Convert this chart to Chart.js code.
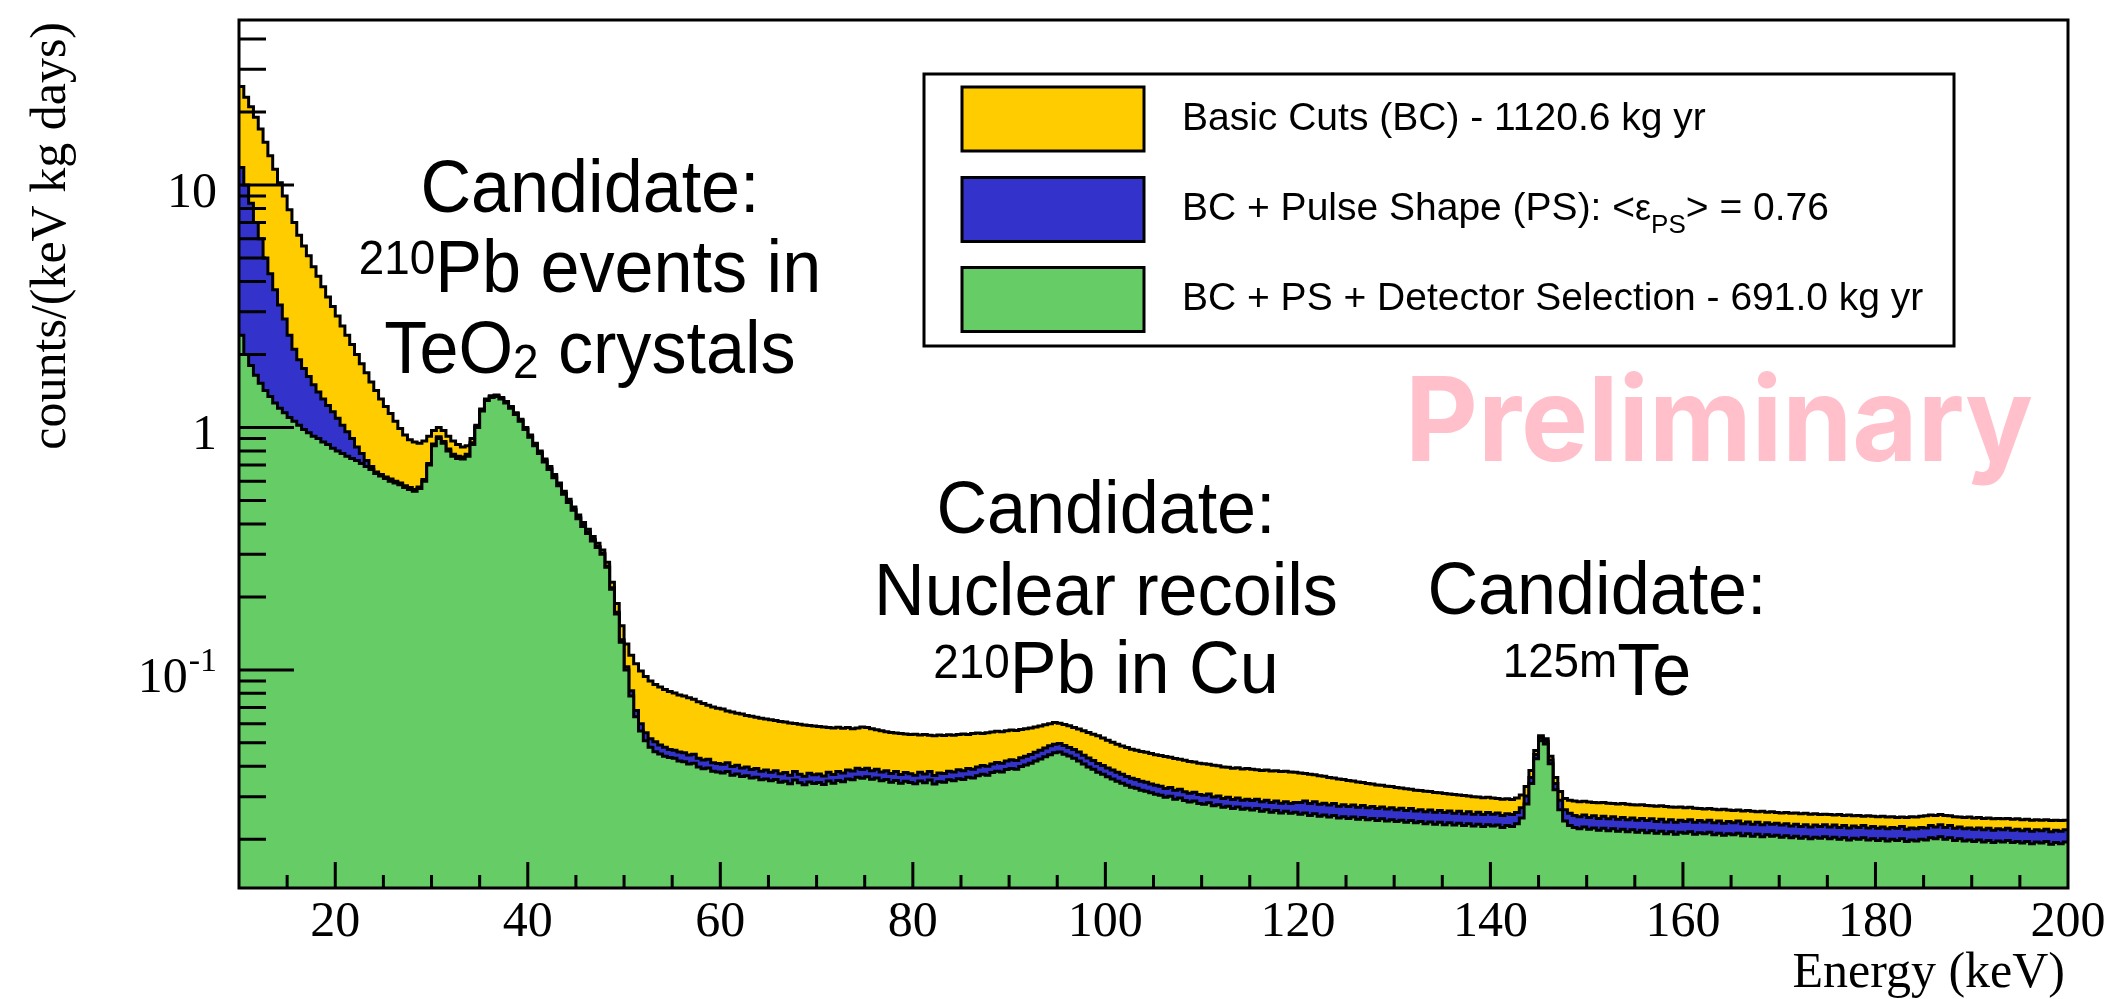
<!DOCTYPE html>
<html>
<head>
<meta charset="utf-8">
<script src="https://cdn.jsdelivr.net/npm/chart.js@4.4.1/dist/chart.umd.min.js"></script>
<style>
  html, body { margin: 0; padding: 0; background: #ffffff; }
  canvas { display: block; }
</style>
</head>
<body>
<canvas id="spectrum" width="2110" height="999"></canvas>
<script>
// Energy binning of the spectra (keV)
const binStart = 10;
const binWidth = 0.5;

// Basic Cuts (BC) - 1120.6 kg yr, counts/(keV kg days)
const basicCuts = [
  25.5, 23, 21, 19, 17, 15, 13.2, 11.6, 10.2, 9.0,
  7.9, 7.0, 6.2, 5.6, 5.1, 4.6, 4.2, 3.8, 3.45, 3.15,
  2.88, 2.62, 2.4, 2.2, 2.0, 1.83, 1.68, 1.54, 1.42, 1.31,
  1.22, 1.14, 1.06, 0.99, 0.93, 0.89, 0.87, 0.86, 0.88, 0.92,
  0.97, 1.0, 0.97, 0.92, 0.88, 0.85, 0.83, 0.84, 0.9, 1.02,
  1.19, 1.31, 1.35, 1.36, 1.33, 1.28, 1.22, 1.15, 1.08, 1.0,
  0.93, 0.86, 0.80, 0.74, 0.69, 0.64, 0.59, 0.545, 0.505, 0.47,
  0.435, 0.405, 0.38, 0.355, 0.333, 0.312, 0.278, 0.23, 0.188, 0.152,
  0.128, 0.115, 0.106, 0.099, 0.094, 0.090, 0.087, 0.085, 0.083, 0.0815,
  0.0802, 0.0788, 0.0781, 0.0768, 0.0757, 0.0739, 0.0726, 0.0715, 0.0703, 0.0694,
  0.0689, 0.0676, 0.0671, 0.0662, 0.0658, 0.0649, 0.0644, 0.0637, 0.0631, 0.0627,
  0.0622, 0.0618, 0.0612, 0.0609, 0.0604, 0.0601, 0.0596, 0.0593, 0.0590, 0.0587,
  0.0584, 0.0581, 0.0579, 0.0576, 0.0580, 0.0574, 0.0578, 0.0572, 0.0576, 0.0581,
  0.0578, 0.0572, 0.0566, 0.0561, 0.0556, 0.0552, 0.0549, 0.0546, 0.0544, 0.0541,
  0.0543, 0.0539, 0.0541, 0.0537, 0.0535, 0.0539, 0.0536, 0.0540, 0.0537, 0.0541,
  0.0544, 0.0541, 0.0546, 0.0549, 0.0547, 0.0551, 0.0554, 0.0558, 0.0556, 0.0561,
  0.0565, 0.0562, 0.0568, 0.0572, 0.0576, 0.0581, 0.0587, 0.0594, 0.0599, 0.0606,
  0.0603, 0.0595, 0.0588, 0.0579, 0.0571, 0.0561, 0.0552, 0.0543, 0.0535, 0.0524,
  0.0512, 0.0503, 0.0494, 0.0485, 0.0478, 0.0471, 0.0466, 0.0461, 0.0457, 0.0452,
  0.0447, 0.0443, 0.0439, 0.0436, 0.0431, 0.0428, 0.0424, 0.0419, 0.0417, 0.0412,
  0.0410, 0.0408, 0.0404, 0.0402, 0.0398, 0.0397, 0.0393, 0.0395, 0.0390, 0.0392,
  0.0389, 0.0387, 0.0385, 0.0386, 0.0383, 0.0384, 0.0381, 0.0382, 0.0379, 0.0378,
  0.0376, 0.0374, 0.0371, 0.0369, 0.0366, 0.0364, 0.0360, 0.0358, 0.0355, 0.0353,
  0.0350, 0.0348, 0.0345, 0.0343, 0.0340, 0.0338, 0.0335, 0.0334, 0.0331, 0.0330,
  0.0327, 0.0326, 0.0323, 0.0322, 0.0319, 0.0318, 0.0316, 0.0315, 0.0312, 0.0311,
  0.0309, 0.0308, 0.0306, 0.0305, 0.0303, 0.0302, 0.0300, 0.0299, 0.0297, 0.0298,
  0.0296, 0.0295, 0.0293, 0.0294, 0.0292, 0.0296, 0.0305, 0.0330, 0.0385, 0.0465,
  0.0535, 0.0520, 0.0440, 0.0360, 0.0315, 0.0295, 0.0290, 0.0288, 0.0286, 0.0287,
  0.0285, 0.0284, 0.0283, 0.0284, 0.0282, 0.0281, 0.0280, 0.0281, 0.0279, 0.0278,
  0.0277, 0.0278, 0.0276, 0.0275, 0.0274, 0.0275, 0.0273, 0.0272, 0.0271, 0.0272,
  0.0270, 0.0271, 0.0269, 0.0268, 0.0267, 0.0268, 0.0266, 0.0265, 0.0266, 0.0264,
  0.0263, 0.0264, 0.0262, 0.0263, 0.0261, 0.0260, 0.0261, 0.0259, 0.0260, 0.0258,
  0.0257, 0.0258, 0.0256, 0.0257, 0.0255, 0.0256, 0.0254, 0.0255, 0.0253, 0.0254,
  0.0253, 0.0252, 0.0253, 0.0251, 0.0252, 0.0250, 0.0251, 0.0249, 0.0250, 0.0249,
  0.0248, 0.0249, 0.0247, 0.0248, 0.0246, 0.0247, 0.0246, 0.0248, 0.0247, 0.0249,
  0.0250, 0.0252, 0.0251, 0.0253, 0.0251, 0.0250, 0.0248, 0.0247, 0.0246, 0.0247,
  0.0245, 0.0246, 0.0244, 0.0245, 0.0243, 0.0244, 0.0243, 0.0244, 0.0242, 0.0243,
  0.0241, 0.0242, 0.0240, 0.0241, 0.0240, 0.0241, 0.0239, 0.0240, 0.0239, 0.0240
];

// BC + Pulse Shape (PS)
const pulseShape = [
  11.8, 10.0, 8.4, 7.0, 6.0, 5.0, 4.3, 3.7, 3.2, 2.8,
  2.4, 2.1, 1.9, 1.75, 1.62, 1.5, 1.4, 1.31, 1.23, 1.16,
  1.09, 1.02, 0.96, 0.9, 0.83, 0.78, 0.73, 0.69, 0.655, 0.64,
  0.625, 0.612, 0.60, 0.59, 0.575, 0.565, 0.555, 0.568, 0.61, 0.71,
  0.855, 0.915, 0.875, 0.815, 0.775, 0.76, 0.755, 0.775, 0.865, 1.01,
  1.18, 1.3, 1.34, 1.35, 1.32, 1.27, 1.21, 1.14, 1.07, 0.99,
  0.92, 0.85, 0.79, 0.73, 0.68, 0.63, 0.58, 0.535, 0.495, 0.46,
  0.425, 0.395, 0.37, 0.345, 0.323, 0.303, 0.268, 0.218, 0.173, 0.133,
  0.103, 0.082, 0.068, 0.060, 0.055, 0.052, 0.0505, 0.049, 0.048, 0.047,
  0.0466, 0.0458, 0.0455, 0.0446, 0.0449, 0.0432, 0.0425, 0.0428, 0.0414, 0.0411,
  0.0408, 0.0414, 0.0399, 0.0404, 0.0394, 0.0398, 0.0388, 0.0392, 0.0382, 0.0386,
  0.0378, 0.0384, 0.0373, 0.0377, 0.0368, 0.0381, 0.0371, 0.0364, 0.0375, 0.0369,
  0.0372, 0.0365, 0.0378, 0.0370, 0.0381, 0.0376, 0.0386, 0.0383, 0.0393, 0.0388,
  0.0393, 0.0384, 0.0389, 0.0379, 0.0384, 0.0374, 0.0381, 0.0370, 0.0377, 0.0373,
  0.0368, 0.0378, 0.0372, 0.0381, 0.0367, 0.0376, 0.0374, 0.0382, 0.0379, 0.0387,
  0.0384, 0.0392, 0.0389, 0.0398, 0.0403, 0.0400, 0.0409, 0.0415, 0.0412, 0.0421,
  0.0426, 0.0423, 0.0434, 0.0440, 0.0448, 0.0457, 0.0466, 0.0476, 0.0486, 0.0494,
  0.0497, 0.0488, 0.0479, 0.0469, 0.0458, 0.0445, 0.0433, 0.0423, 0.0411, 0.0403,
  0.0394, 0.0386, 0.0378, 0.0371, 0.0363, 0.0357, 0.0353, 0.0347, 0.0344, 0.0338,
  0.0334, 0.0331, 0.0324, 0.0327, 0.0319, 0.0322, 0.0314, 0.0310, 0.0313, 0.0306,
  0.0304, 0.0308, 0.0299, 0.0302, 0.0295, 0.0298, 0.0292, 0.0296, 0.0290, 0.0293,
  0.0289, 0.0293, 0.0286, 0.0290, 0.0284, 0.0288, 0.0282, 0.0286, 0.0281, 0.0284,
  0.0284, 0.0288, 0.0281, 0.0286, 0.0279, 0.0282, 0.0277, 0.0281, 0.0274, 0.0278,
  0.0273, 0.0277, 0.0271, 0.0276, 0.0270, 0.0273, 0.0268, 0.0272, 0.0267, 0.0270,
  0.0265, 0.0269, 0.0263, 0.0268, 0.0262, 0.0265, 0.0260, 0.0264, 0.0259, 0.0263,
  0.0258, 0.0262, 0.0256, 0.0261, 0.0255, 0.0260, 0.0254, 0.0259, 0.0253, 0.0258,
  0.0254, 0.0257, 0.0251, 0.0255, 0.0253, 0.0258, 0.0270, 0.0302, 0.0360, 0.0448,
  0.0525, 0.0508, 0.0425, 0.0340, 0.0290, 0.0265, 0.0256, 0.0251, 0.0248, 0.0252,
  0.0246, 0.0250, 0.0244, 0.0249, 0.0243, 0.0248, 0.0242, 0.0246, 0.0241, 0.0245,
  0.0240, 0.0244, 0.0239, 0.0243, 0.0237, 0.0242, 0.0236, 0.0241, 0.0235, 0.0240,
  0.0237, 0.0241, 0.0235, 0.0239, 0.0236, 0.0240, 0.0234, 0.0238, 0.0233, 0.0237,
  0.0234, 0.0238, 0.0232, 0.0236, 0.0231, 0.0235, 0.0230, 0.0234, 0.0231, 0.0233,
  0.0229, 0.0232, 0.0227, 0.0231, 0.0226, 0.0230, 0.0225, 0.0229, 0.0226, 0.0230,
  0.0225, 0.0229, 0.0224, 0.0228, 0.0223, 0.0227, 0.0224, 0.0228, 0.0223, 0.0226,
  0.0222, 0.0225, 0.0221, 0.0224, 0.0222, 0.0226, 0.0220, 0.0223, 0.0221, 0.0224,
  0.0223, 0.0228, 0.0225, 0.0230, 0.0224, 0.0228, 0.0222, 0.0225, 0.0221, 0.0223,
  0.0220, 0.0223, 0.0219, 0.0222, 0.0218, 0.0221, 0.0219, 0.0222, 0.0218, 0.0220,
  0.0217, 0.0220, 0.0216, 0.0219, 0.0217, 0.0220, 0.0215, 0.0218, 0.0216, 0.0219
];

// BC + PS + Detector Selection - 691.0 kg yr
const detectorSelection = [
  2.4, 2.0, 1.8, 1.64, 1.52, 1.42, 1.34, 1.26, 1.2, 1.15,
  1.1, 1.06, 1.02, 0.98, 0.95, 0.92, 0.9, 0.87, 0.85, 0.82,
  0.80, 0.78, 0.76, 0.745, 0.73, 0.71, 0.69, 0.67, 0.645, 0.63,
  0.615, 0.60, 0.59, 0.58, 0.565, 0.555, 0.545, 0.56, 0.6, 0.7,
  0.84, 0.9, 0.86, 0.8, 0.76, 0.745, 0.74, 0.76, 0.85, 1.0,
  1.17, 1.29, 1.33, 1.34, 1.31, 1.26, 1.2, 1.13, 1.06, 0.98,
  0.91, 0.84, 0.78, 0.72, 0.67, 0.62, 0.575, 0.53, 0.49, 0.455,
  0.42, 0.39, 0.365, 0.34, 0.32, 0.30, 0.265, 0.215, 0.17, 0.13,
  0.1, 0.078, 0.064, 0.056, 0.051, 0.048, 0.046, 0.045, 0.044, 0.0435,
  0.0432, 0.0421, 0.0418, 0.0409, 0.0412, 0.0398, 0.0391, 0.0394, 0.0382, 0.0379,
  0.0376, 0.0381, 0.0368, 0.0372, 0.0363, 0.0366, 0.0358, 0.0361, 0.0352, 0.0355,
  0.0349, 0.0353, 0.0344, 0.0347, 0.0339, 0.0351, 0.0342, 0.0336, 0.0345, 0.0340,
  0.0343, 0.0337, 0.0348, 0.0341, 0.0350, 0.0346, 0.0355, 0.0352, 0.0361, 0.0357,
  0.0362, 0.0354, 0.0358, 0.0349, 0.0353, 0.0344, 0.0350, 0.0341, 0.0347, 0.0343,
  0.0339, 0.0348, 0.0342, 0.0351, 0.0338, 0.0346, 0.0344, 0.0352, 0.0349, 0.0356,
  0.0353, 0.0361, 0.0358, 0.0366, 0.0371, 0.0368, 0.0377, 0.0382, 0.0379, 0.0388,
  0.0392, 0.0389, 0.0399, 0.0405, 0.0412, 0.0421, 0.0429, 0.0438, 0.0447, 0.0455,
  0.0458, 0.0449, 0.0441, 0.0432, 0.0421, 0.0409, 0.0398, 0.0389, 0.0378, 0.0371,
  0.0362, 0.0355, 0.0347, 0.0341, 0.0334, 0.0328, 0.0325, 0.0319, 0.0316, 0.0311,
  0.0307, 0.0304, 0.0298, 0.0301, 0.0293, 0.0296, 0.0289, 0.0285, 0.0288, 0.0281,
  0.0279, 0.0283, 0.0275, 0.0278, 0.0271, 0.0274, 0.0268, 0.0272, 0.0266, 0.0269,
  0.0264, 0.0268, 0.0261, 0.0265, 0.0259, 0.0263, 0.0257, 0.0261, 0.0256, 0.0259,
  0.0254, 0.0257, 0.0251, 0.0255, 0.0249, 0.0252, 0.0247, 0.0251, 0.0245, 0.0248,
  0.0244, 0.0247, 0.0242, 0.0246, 0.0241, 0.0244, 0.0239, 0.0243, 0.0238, 0.0241,
  0.0237, 0.0240, 0.0235, 0.0239, 0.0234, 0.0237, 0.0232, 0.0236, 0.0231, 0.0235,
  0.0230, 0.0234, 0.0229, 0.0233, 0.0228, 0.0232, 0.0227, 0.0231, 0.0226, 0.0230,
  0.0227, 0.0229, 0.0224, 0.0228, 0.0226, 0.0232, 0.0245, 0.0280, 0.0340, 0.0430,
  0.0510, 0.0495, 0.0410, 0.0320, 0.0265, 0.0238, 0.0228, 0.0224, 0.0221, 0.0225,
  0.0220, 0.0223, 0.0218, 0.0222, 0.0217, 0.0221, 0.0216, 0.0220, 0.0215, 0.0219,
  0.0214, 0.0218, 0.0213, 0.0217, 0.0212, 0.0216, 0.0211, 0.0215, 0.0210, 0.0214,
  0.0212, 0.0215, 0.0210, 0.0213, 0.0211, 0.0214, 0.0209, 0.0212, 0.0208, 0.0211,
  0.0209, 0.0212, 0.0207, 0.0211, 0.0206, 0.0210, 0.0205, 0.0209, 0.0206, 0.0208,
  0.0204, 0.0207, 0.0203, 0.0206, 0.0202, 0.0205, 0.0201, 0.0204, 0.0202, 0.0205,
  0.0201, 0.0204, 0.0200, 0.0203, 0.0199, 0.0202, 0.0200, 0.0203, 0.0199, 0.0201,
  0.0198, 0.0201, 0.0197, 0.0200, 0.0198, 0.0201, 0.0196, 0.0199, 0.0197, 0.0200,
  0.0199, 0.0203, 0.0201, 0.0205, 0.0200, 0.0203, 0.0198, 0.0201, 0.0197, 0.0199,
  0.0196, 0.0199, 0.0195, 0.0198, 0.0194, 0.0197, 0.0195, 0.0198, 0.0194, 0.0196,
  0.0193, 0.0196, 0.0192, 0.0195, 0.0193, 0.0196, 0.0191, 0.0194, 0.0192, 0.0195
];

// Axis ranges and labels
const xRange = [10, 200];
const yRange = [0.0126, 47.9];
const xTickLabels = [20, 40, 60, 80, 100, 120, 140, 160, 180, 200];
const yMajorTicks = [0.1, 1, 10];
const xTitle = 'Energy (keV)';
const yTitle = 'counts/(keV kg days)';

// Series styling
const seriesColors = ['#FFCC00', '#3333CC', '#66CC66'];

// Legend entries: [text, size, baseline shift]
const legendEntries = [
  [['Basic Cuts (BC) - 1120.6 kg yr', 39, 0]],
  [['BC + Pulse Shape (PS): <', 39, 0], ['\u03B5', 36, 0], ['PS', 26, 13], ['> = 0.76', 39, 0]],
  [['BC + PS + Detector Selection - 691.0 kg yr', 39, 0]]
];

// Text annotations on the spectrum: lines of [text, size, baseline shift]
const annotations = [
  { cx: 590, lines: [
    { base: 212, parts: [['Candidate:', 75, 0]] },
    { base: 292, parts: [['210', 49, -18], ['Pb events in', 75, 0]] },
    { base: 373, parts: [['TeO', 75, 0], ['2', 49, 5], [' crystals', 75, 0]] }
  ]},
  { cx: 1106, lines: [
    { base: 533, parts: [['Candidate:', 75, 0]] },
    { base: 615, parts: [['Nuclear recoils', 75, 0]] },
    { base: 693, parts: [['210', 49, -15], ['Pb in Cu', 75, 0]] }
  ]},
  { cx: 1597, lines: [
    { base: 614, parts: [['Candidate:', 75, 0]] },
    { base: 695, parts: [['125m', 49, -18], ['Te', 75, 0]] }
  ]}
];

function histPoints(values) {
  const pts = values.map((v, i) => ({ x: binStart + i * binWidth, y: v }));
  pts.push({ x: binStart + values.length * binWidth, y: values[values.length - 1] });
  return pts;
}

const SERIF = '"Liberation Serif", "Times New Roman", serif';
const SANS = '"Liberation Sans", Arial, sans-serif';
const STAMP = 'Inter, "Liberation Sans", sans-serif';

function measureParts(ctx, parts, family) {
  let w = 0;
  const widths = parts.map(([t, s]) => {
    ctx.font = `${s}px ${family}`;
    const m = ctx.measureText(t).width;
    w += m;
    return m;
  });
  return { w, widths };
}

const rootStyle = {
  id: 'rootStyle',
  afterDraw(chart) {
    const { ctx, chartArea: a, scales: { x, y } } = chart;
    ctx.save();
    ctx.strokeStyle = '#000';
    ctx.fillStyle = '#000';
    ctx.lineWidth = 3;
    ctx.lineCap = 'butt';

    // X ticks: major every 20 keV, minor every 5 keV
    ctx.beginPath();
    for (let v = xRange[0] + 5; v < xRange[1]; v += 5) {
      const px = x.getPixelForValue(v);
      const len = v % 20 === 0 ? 26 : 13;
      ctx.moveTo(px, a.bottom);
      ctx.lineTo(px, a.bottom - len);
    }
    // Y ticks on log scale
    for (let d = -2; d <= 1; d++) {
      for (let m = 1; m <= 9; m++) {
        const v = m * Math.pow(10, d);
        if (v < yRange[0] || v > yRange[1]) continue;
        const py = y.getPixelForValue(v);
        const len = m === 1 ? 55 : 27;
        ctx.moveTo(a.left, py);
        ctx.lineTo(a.left + len, py);
      }
    }
    ctx.stroke();

    // Frame
    ctx.strokeRect(a.left, a.top, a.right - a.left, a.bottom - a.top);

    // X tick labels
    ctx.font = `50px ${SERIF}`;
    ctx.textAlign = 'center';
    ctx.textBaseline = 'alphabetic';
    xTickLabels.forEach(v => ctx.fillText(String(v), x.getPixelForValue(v), a.bottom + 48));

    // Y tick labels
    ctx.textAlign = 'right';
    const labelRight = a.left - 22;
    yMajorTicks.forEach(v => {
      const py = y.getPixelForValue(v) + 22;
      const exp = Math.round(Math.log10(v));
      if (exp === 0) {
        ctx.font = `50px ${SERIF}`;
        ctx.fillText('1', labelRight, py);
      } else if (exp === 1) {
        ctx.font = `50px ${SERIF}`;
        ctx.fillText('10', labelRight, py);
      } else {
        ctx.font = `34px ${SERIF}`;
        const sup = String(exp);
        const sw = ctx.measureText(sup).width;
        ctx.fillText(sup, labelRight, py - 21);
        ctx.font = `50px ${SERIF}`;
        ctx.fillText('10', labelRight - sw - 1, py);
      }
    });

    // Axis titles
    ctx.font = `50px ${SERIF}`;
    ctx.textAlign = 'right';
    ctx.fillText(xTitle, a.right - 3, a.bottom + 99);
    ctx.save();
    ctx.translate(65, 22);
    ctx.rotate(-Math.PI / 2);
    ctx.textAlign = 'right';
    ctx.fillText(yTitle, 0, 0);
    ctx.restore();

    // Legend
    const lg = { left: 924, top: 74, right: 1954, bottom: 346 };
    ctx.fillStyle = '#fff';
    ctx.fillRect(lg.left, lg.top, lg.right - lg.left, lg.bottom - lg.top);
    ctx.lineWidth = 3;
    ctx.strokeRect(lg.left, lg.top, lg.right - lg.left, lg.bottom - lg.top);
    const rowCenters = [119, 209.5, 299.5];
    legendEntries.forEach((parts, i) => {
      const cy = rowCenters[i];
      ctx.fillStyle = seriesColors[i];
      ctx.fillRect(962, cy - 32, 182, 64);
      ctx.strokeRect(962, cy - 32, 182, 64);
      ctx.fillStyle = '#000';
      ctx.textAlign = 'left';
      let tx = 1182;
      parts.forEach(([t, s, dy]) => {
        ctx.font = `${s}px ${SANS}`;
        ctx.fillText(t, tx, cy + 10.5 + dy);
        tx += ctx.measureText(t).width;
      });
    });

    // Annotations (slightly narrowed sans to keep the label widths)
    ctx.fillStyle = '#000';
    ctx.textAlign = 'left';
    ctx.font = `75px ${SANS}`;
    const squeeze = (345 + 458) /
      (ctx.measureText('Candidate:').width + ctx.measureText('Nuclear recoils').width);
    annotations.forEach(an => {
      an.lines.forEach(line => {
        const { w, widths } = measureParts(ctx, line.parts, SANS);
        ctx.save();
        ctx.translate(an.cx, line.base);
        ctx.scale(squeeze, 1);
        let tx = -w / 2;
        line.parts.forEach(([t, s, dy], k) => {
          ctx.font = `${s}px ${SANS}`;
          ctx.fillText(t, tx, dy);
          tx += widths[k];
        });
        ctx.restore();
      });
    });

    // Preliminary stamp
    ctx.save();
    ctx.fillStyle = 'rgb(255,192,203)';
    ctx.font = `700 117px ${STAMP}`;
    const pw = ctx.measureText('Preliminary').width;
    ctx.translate(2033, 461);
    ctx.scale(628 / pw, 1);
    ctx.textAlign = 'right';
    ctx.fillText('Preliminary', 0, 0);
    ctx.restore();

    ctx.restore();
  }
};

new Chart(document.getElementById('spectrum'), {
  type: 'line',
  data: {
    datasets: [
      { label: 'Basic Cuts (BC) - 1120.6 kg yr', data: histPoints(basicCuts),
        backgroundColor: seriesColors[0], order: 3 },
      { label: 'BC + Pulse Shape (PS)', data: histPoints(pulseShape),
        backgroundColor: seriesColors[1], order: 2 },
      { label: 'BC + PS + Detector Selection - 691.0 kg yr', data: histPoints(detectorSelection),
        backgroundColor: seriesColors[2], order: 1 }
    ].map(ds => Object.assign(ds, {
      borderColor: '#000', borderWidth: 3, fill: 'start', stepped: true,
      pointRadius: 0, tension: 0
    }))
  },
  options: {
    responsive: false,
    devicePixelRatio: 1,
    animation: false,
    layout: { padding: { top: 20, right: 42, left: 0, bottom: 0 } },
    scales: {
      x: {
        type: 'linear', min: xRange[0], max: xRange[1],
        grid: { display: false }, border: { display: false }, ticks: { display: false },
        afterFit(s) { s.height = 111; }
      },
      y: {
        type: 'logarithmic', min: yRange[0], max: yRange[1],
        grid: { display: false }, border: { display: false }, ticks: { display: false },
        afterFit(s) { s.width = 239; }
      }
    },
    plugins: { legend: { display: false }, tooltip: { enabled: false } }
  },
  plugins: [rootStyle]
});
</script>
</body>
</html>
